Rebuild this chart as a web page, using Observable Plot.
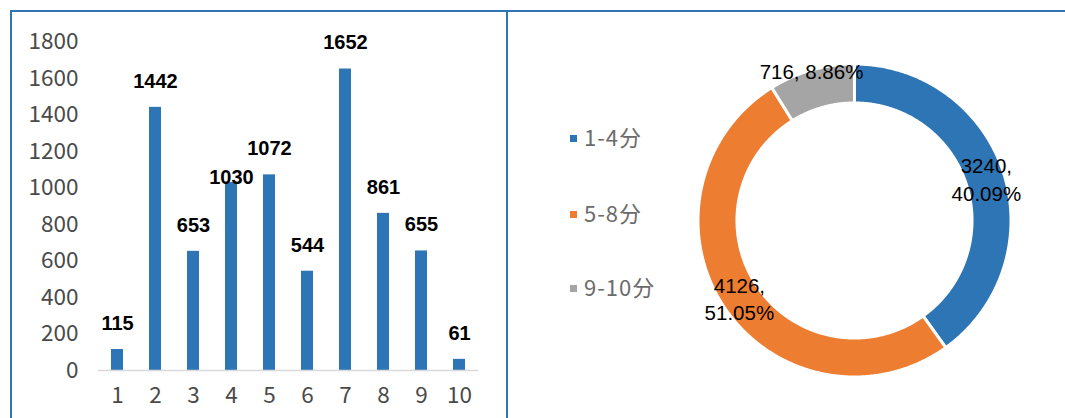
<!DOCTYPE html>
<html><head><meta charset="utf-8">
<script src="https://cdn.jsdelivr.net/npm/d3@7"></script>
<script src="https://cdn.jsdelivr.net/npm/@observablehq/plot@0.6"></script>
<style>
body{margin:0;background:#fff;}
#wrap{position:relative;width:1065px;height:418px;overflow:hidden;background:#fff;}
.border{position:absolute;background:#2e75b6;}
#left{position:absolute;left:0;top:0;}
#right{position:absolute;left:508px;top:0;}
.leg{position:absolute;left:570px;font-family:"Noto Sans CJK SC",sans-serif;font-size:22px;letter-spacing:1px;color:#6b6b6b;line-height:26px;height:26px;white-space:nowrap;}
.leg i{display:inline-block;width:7px;height:7px;margin-right:7px;vertical-align:middle;position:relative;top:-2px;}
</style></head><body>
<div id="wrap">
  <div id="left"></div>
  <div id="right"></div>
  <div class="border" style="left:10px;top:10px;width:1055px;height:2px;"></div>
  <div class="border" style="left:10px;top:10px;width:2px;height:408px;"></div>
  <div class="border" style="left:506px;top:10px;width:2px;height:408px;"></div>
</div>
<script>
const scores = ["1","2","3","4","5","6","7","8","9","10"];
const counts = [115,1442,653,1030,1072,544,1652,861,655,61];
const yTicks = [0,200,400,600,800,1000,1200,1400,1600,1800];
const groups = ["1-4分","5-8分","9-10分"];
const groupCounts = [3240,4126,716];
const groupPcts = ["40.09%","51.05%","8.86%"];
const groupColors = ["#2e75b6","#ed7d31","#a5a5a5"];

// ---- Left: bar chart ----
const bars = scores.map((s,i)=>({score:s,count:counts[i]}));
const left = Plot.plot({
  width:508, height:418,
  marginLeft:98, marginRight:30, marginTop:41.5, marginBottom:48,
  x:{domain:scores, paddingInner:0.684, paddingOuter:0.342, label:null, tickSize:0, tickPadding:17},
  y:{domain:[0,1800], ticks:yTicks, tickFormat:d=>String(d), label:null, tickSize:0, tickPadding:20},
  style:{fontFamily:"'Noto Sans CJK SC', sans-serif", fontSize:"22.5px", color:"#4a4a4a", background:"transparent"},
  marks:[
    Plot.barY(bars,{x:"score",y:"count",fill:"#2e75b6"}),
    Plot.ruleY([0],{stroke:"#d9d9d9",strokeWidth:1.5}),
    Plot.text(bars.filter(d=>d.score!=="4"),{x:"score",y:"count",text:d=>String(d.count),dy:-26,
      fontWeight:"bold",fontSize:20,fontFamily:"'Liberation Sans', Arial, sans-serif",fill:"#000"}),
    Plot.text(bars.filter(d=>d.score==="4"),{x:"score",y:"count",text:d=>String(d.count),dy:-5,
      fontWeight:"bold",fontSize:20,fontFamily:"'Liberation Sans', Arial, sans-serif",fill:"#000"})
  ]
});
document.getElementById("left").appendChild(left);

// ---- Right: donut ----
const total = d3.sum(groupCounts);
const rOuter = 1, rInner = 0.751;
const pts = [];
const labels = [];
let acc = 0;
groups.forEach((g,i)=>{
  const a0 = acc/total*2*Math.PI;
  acc += groupCounts[i];
  const a1 = acc/total*2*Math.PI;
  const n = Math.max(4, Math.ceil((a1-a0)/(Math.PI/360)));
  for(let k=0;k<=n;k++){const a=a0+(a1-a0)*k/n; pts.push({group:g,x:rOuter*Math.sin(a),y:rOuter*Math.cos(a)});}
  for(let k=n;k>=0;k--){const a=a0+(a1-a0)*k/n; pts.push({group:g,x:rInner*Math.sin(a),y:rInner*Math.cos(a)});}
  const am = (a0+a1)/2;
  const small = groupCounts[i]/total < 0.1;
  const rl = small ? 1.0 : 0.885;
  labels.push({x:rl*Math.sin(am), y:rl*Math.cos(am),
    text: small ? `${groupCounts[i]}, ${groupPcts[i]}` : `${groupCounts[i]},\n${groupPcts[i]}`});
});
const cx = 346, cy = 220, R = 156.5;
const right = Plot.plot({
  width:557, height:418, margin:0,
  x:{domain:[-1,1], range:[cx-R, cx+R], axis:null},
  y:{domain:[-1,1], range:[cy+R, cy-R], axis:null},
  color:{domain:groups, range:groupColors},
  style:{background:"transparent"},
  marks:[
    Plot.line(pts,{x:"x",y:"y",z:"group",fill:"group",stroke:"white",strokeWidth:3,curve:"linear-closed"}),
    Plot.text(labels,{x:"x",y:"y",text:"text",fontSize:20.5,lineHeight:1.35,
      fontFamily:"'Liberation Sans', Arial, sans-serif",fill:"#000"})
  ]
});
document.getElementById("right").appendChild(right);

// ---- Legend ----
const legendTops = [123, 199, 273];
groups.forEach((g,i)=>{
  const d = document.createElement("div");
  d.className = "leg";
  d.style.top = legendTops[i] + "px";
  d.innerHTML = `<i style="background:${groupColors[i]}"></i>${g}`;
  document.getElementById("wrap").appendChild(d);
});
</script>
</body></html>
